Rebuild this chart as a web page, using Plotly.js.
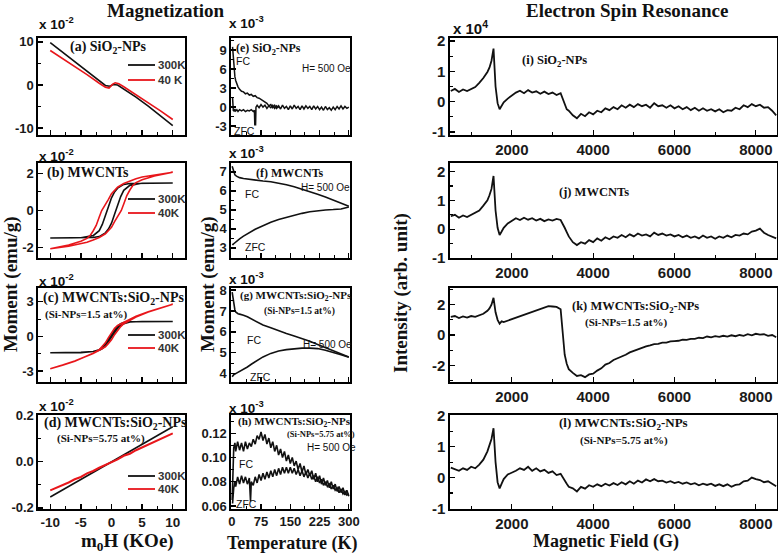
<!DOCTYPE html>
<html>
<head>
<meta charset="utf-8">
<script src="https://cdn.plot.ly/plotly-3.0.1.min.js"></script>
<style>html,body{margin:0;padding:0;background:#fff;}#chart{width:778px;height:560px;}</style>
</head>
<body>
<div id="chart"></div>
<script>
// ================= DATA =================
// (a) SiO2-NPs, M-H  (x10^-2 emu/g)
const aH300 = [-10,-8,-6,-4,-2,-1,-0.3,0.3,1,2,4,6,8,10];
const aM300 = [9.8,7.6,5.4,3.1,0.8,-0.1,-0.3,0.1,0.0,-0.9,-2.8,-4.9,-7.1,-9.4];
const aH40  = [-10,-8,-6,-4,-2,-1,-0.4,0.2,0.6,1.2,2,4,6,8,10];
const aM40  = [8.0,6.2,4.3,2.4,0.4,-0.5,-0.7,0.2,0.5,0.3,-0.4,-2.2,-4.1,-6.0,-8.0];
// (b) MWCNTs loops (descending branch then ascending branch)
const bH300 = [10,5,3,2,1,0.5,0,-0.5,-1,-1.5,-2,-3,-5,-10, -10,-5,-3,-2,-1,-0.5,0,0.5,1,1.5,2,3,5,10];
const bM300 = [1.48,1.47,1.45,1.4,1.2,1.0,0.68,0.2,-0.3,-0.75,-1.08,-1.35,-1.46,-1.48, -1.48,-1.47,-1.45,-1.4,-1.2,-1.0,-0.68,-0.2,0.3,0.75,1.08,1.35,1.46,1.48];
const bH40  = [10,7,5,4,3,2,1,0,-0.5,-1,-1.6,-2,-2.5,-3,-3.5,-4,-5,-7,-10, -10,-7,-5,-4,-3,-2,-1,0,0.5,1,1.6,2,2.5,3,3.5,4,5,7,10];
const bM40  = [2.05,1.92,1.8,1.7,1.58,1.45,1.25,0.9,0.6,0.3,0,-0.35,-0.8,-1.1,-1.35,-1.5,-1.65,-1.85,-2.05, -2.05,-1.92,-1.8,-1.7,-1.58,-1.45,-1.25,-0.9,-0.6,-0.3,0,0.35,0.8,1.1,1.35,1.5,1.65,1.85,2.05];
// (c) MWCNTs:SiO2-NPs (1.5 at%)
const cH300 = [10,5,3,2,1.5,1,0.5,0,-0.5,-1,-1.5,-2,-3,-5,-10, -10,-5,-3,-2,-1.5,-1,-0.5,0,0.5,1,1.5,2,3,5,10];
const cM300 = [1.3,1.3,1.28,1.2,1.1,0.9,0.55,0.2,-0.25,-0.65,-0.95,-1.15,-1.3,-1.4,-1.42, -1.42,-1.38,-1.3,-1.2,-1.05,-0.8,-0.45,-0.05,0.35,0.7,0.95,1.1,1.25,1.3,1.3];
const cH40  = [10,8,6,4,3,2,1,0.5,0,-0.5,-1,-1.5,-2,-3,-4,-6,-8,-10, -10,-8,-6,-4,-3,-2,-1,-0.5,0,0.5,1,1.5,2,3,4,6,8,10];
const cM40  = [2.8,2.5,2.15,1.75,1.5,1.25,0.95,0.7,0.35,-0.1,-0.55,-0.9,-1.15,-1.45,-1.7,-2.15,-2.5,-2.8, -2.8,-2.48,-2.12,-1.72,-1.48,-1.2,-0.9,-0.6,-0.3,0.15,0.55,0.85,1.1,1.42,1.68,2.12,2.48,2.8];
// (d) MWCNTs:SiO2-NPs (5.75 at%)
const dH300 = [-10,-6,-2,2,6,10];
const dM300 = [-0.153,-0.092,-0.031,0.030,0.092,0.152];
const dH40  = [-10,-9,-8,-7,-6,-5,-4,-3,-2,-1,0,1,2,3,4,5,6,7,8,9,10];
const dM40  = [-0.124,-0.113,-0.1,-0.09,-0.076,-0.066,-0.05,-0.04,-0.026,-0.014,0.0,0.01,0.026,0.035,0.05,0.062,0.074,0.086,0.099,0.108,0.123];

// (e) SiO2-NPs FC / ZFC (x10^-3 emu/g)
const eT_FC = [2,4,6,8,10,13,16,20,25,30,35,40,45,50,55,60,65,70,75,80,85,90,95,100,105,110,115,120,125,130,135,140,145,150,155,160,165,170,175,180,185,190,195,200,205,210,215,220,225,230,235,240,245,250,255,260,265,270,275,280,285,290,295,300];
const eM_FC = [9.5,7.5,5.8,4.8,4.2,3.6,3.2,2.8,2.5,2.4,2.1,2.2,1.9,2.0,1.7,1.8,1.5,1.4,1.2,1.0,0.7,0.6,0.2,0.4,-0.1,0.3,-0.2,0.2,-0.3,0.3,-0.2,0.1,-0.4,0.2,-0.3,0.3,-0.2,0.1,-0.4,0.2,-0.3,0.2,-0.2,0.1,-0.4,0.2,-0.3,0.1,-0.4,0.0,-0.5,0.1,-0.4,-0.1,-0.5,0.0,-0.4,0.1,-0.3,0.2,-0.3,0.1,-0.2,0.0];
const eT_ZFC = [2,3,4,5,6,8,10,13,16,20,25,30,35,40,45,50,55,58,59,61,62,65,70,75,80,85,90,95,100,105,110,115,120];
const eM_ZFC = [1.5,0.2,-0.6,-0.3,-0.7,-0.3,-0.6,-0.4,-0.7,-0.4,-0.6,-0.4,-0.7,-0.5,-0.6,-0.4,-0.7,-0.5,-2.8,-2.8,0.0,0.3,-0.1,0.4,0.0,0.3,-0.2,0.2,-0.1,0.3,-0.2,0.2,-0.1];
// (f) MWCNTs
const fT_FC = [1,3,5,8,12,16,20,30,40,50,60,80,100,120,140,160,180,200,220,240,260,280,300];
const fM_FC = [7.3,7.15,7.0,6.85,6.78,6.72,6.7,6.65,6.62,6.6,6.57,6.52,6.48,6.42,6.33,6.22,6.1,5.95,5.82,5.68,5.52,5.36,5.2];
const fT_ZFC = [1,3,5,10,15,20,30,40,50,60,70,80,100,120,140,160,180,200,220,240,260,280,300];
const fM_ZFC = [3.2,3.18,3.22,3.32,3.4,3.48,3.62,3.75,3.87,3.98,4.08,4.18,4.35,4.5,4.62,4.73,4.82,4.9,4.96,5.0,5.02,5.05,5.15];
// (g) MWCNTs:SiO2-NPs (1.5 at%)
const gT_FC = [1,3,5,8,10,13,16,20,25,30,40,50,60,70,80,100,120,140,160,180,200,220,240,260,280,300];
const gM_FC = [7.9,7.6,7.3,7.05,6.95,6.9,6.87,6.85,6.83,6.8,6.72,6.62,6.52,6.42,6.33,6.2,6.05,5.92,5.8,5.68,5.55,5.4,5.25,5.1,4.95,4.8];
const gT_ZFC = [1,3,5,10,15,20,30,40,50,60,70,80,100,120,140,160,180,200,220,240,260,280,300];
const gM_ZFC = [3.85,3.9,3.95,4.0,4.05,4.1,4.2,4.32,4.45,4.58,4.7,4.8,4.97,5.08,5.15,5.2,5.22,5.22,5.2,5.12,5.02,4.9,4.78];
// (h) MWCNTs:SiO2-NPs (5.75 at%)
const hT_FC = [1,2,3,5,8,10,15,20,25,30,35,40,45,50,55,60,65,70,75,80,85,90,95,100,105,110,115,120,125,130,135,140,145,150,155,160,165,170,175,180,185,190,195,200,205,210,215,220,225,230,235,240,245,250,255,260,265,270,275,280,285,290,295,300];
const hM_FC = [0.065,0.085,0.1,0.108,0.112,0.105,0.113,0.106,0.112,0.105,0.113,0.107,0.112,0.109,0.115,0.111,0.118,0.115,0.121,0.114,0.119,0.111,0.116,0.108,0.113,0.105,0.11,0.102,0.107,0.1,0.105,0.097,0.102,0.095,0.1,0.093,0.097,0.09,0.095,0.088,0.093,0.086,0.09,0.085,0.089,0.082,0.087,0.08,0.085,0.078,0.083,0.077,0.081,0.075,0.08,0.074,0.078,0.072,0.076,0.071,0.075,0.069,0.073,0.068];
const hT_ZFC = [2,3,5,8,10,15,20,25,30,35,40,45,47,48,50,55,60,65,70,75,80,85,90,95,100,105,110,115,120,125,130,135,140,145,150,155,160,165,170,175,180,185,190,195,200,205,210,215,220,225,230,235,240,245,250,255,260,265,270,275,280,285,290,295,300];
const hM_ZFC = [0.062,0.07,0.075,0.08,0.076,0.084,0.078,0.085,0.079,0.084,0.078,0.083,0.066,0.064,0.08,0.077,0.084,0.079,0.086,0.081,0.087,0.082,0.088,0.083,0.089,0.084,0.09,0.085,0.091,0.086,0.092,0.087,0.092,0.087,0.092,0.087,0.091,0.086,0.09,0.085,0.089,0.084,0.088,0.083,0.087,0.082,0.085,0.08,0.084,0.079,0.082,0.077,0.08,0.076,0.078,0.074,0.077,0.073,0.075,0.071,0.074,0.07,0.072,0.069,0.07];

// ESR (x10^4 arb. unit) vs magnetic field (G)
const field = [500,600,700,800,900,1000,1100,1200,1300,1400,
  1450,1500,1550,1600,1650,1700,1750,1800,
  1900,2000,2100,2200,2300,2400,2500,2600,2700,2800,2900,3000,3100,3200,
  3250,3300,3350,3400,
  3500,3600,3700,3800,3900,4000,4100,4200,4300,4400,
  4500,4600,4700,4800,4900,5000,5100,5200,5300,5400,
  5500,5600,5700,5800,5900,6000,6100,6200,6300,6400,
  6500,6600,6700,6800,6900,7000,7100,7200,7300,7400,
  7500,7600,7700,7800,7900,8000,8100,8200,8300,8400,8500];
const esrI = [0.35,0.42,0.32,0.4,0.35,0.42,0.48,0.62,0.78,0.98,
  1.12,1.35,1.75,0.5,-0.05,-0.25,-0.12,-0.02,
  0.1,0.2,0.3,0.36,0.28,0.38,0.3,0.34,0.26,0.33,0.25,0.3,0.22,0.28,
  0.1,-0.1,-0.25,-0.3,
  -0.45,-0.55,-0.4,-0.48,-0.35,-0.42,-0.3,-0.35,-0.22,-0.28,
  -0.18,-0.25,-0.12,-0.2,-0.1,-0.18,-0.08,-0.15,-0.1,-0.2,
  -0.05,-0.15,-0.12,-0.2,-0.12,-0.22,-0.15,-0.25,-0.18,-0.28,
  -0.2,-0.3,-0.22,-0.3,-0.25,-0.32,-0.25,-0.35,-0.28,-0.3,
  -0.2,-0.25,-0.12,-0.18,-0.08,-0.15,-0.1,-0.2,-0.18,-0.3,-0.45];
const esrJ = [0.45,0.5,0.4,0.48,0.42,0.5,0.55,0.65,0.82,1.0,
  1.18,1.4,1.85,0.65,0.05,-0.2,-0.08,0.05,
  0.2,0.3,0.38,0.32,0.4,0.33,0.38,0.3,0.36,0.28,0.34,0.3,0.36,0.32,
  0.2,0.05,-0.1,-0.25,
  -0.45,-0.55,-0.45,-0.5,-0.38,-0.45,-0.32,-0.4,-0.28,-0.35,
  -0.25,-0.3,-0.2,-0.28,-0.18,-0.25,-0.15,-0.22,-0.18,-0.25,
  -0.12,-0.2,-0.15,-0.22,-0.18,-0.25,-0.2,-0.28,-0.22,-0.3,
  -0.25,-0.32,-0.22,-0.3,-0.25,-0.33,-0.25,-0.3,-0.22,-0.28,
  -0.2,-0.22,-0.15,-0.18,-0.08,-0.05,0.02,-0.12,-0.2,-0.25,-0.32];
const esrK = [1.2,1.25,1.12,1.22,1.15,1.25,1.2,1.3,1.4,1.6,
  1.75,2.0,2.45,1.5,1.0,0.75,0.9,0.85,
  0.95,1.05,1.15,1.25,1.35,1.45,1.5,1.65,1.75,1.85,1.9,1.88,1.85,1.7,
  0.3,-1.3,-1.9,-2.25,
  -2.5,-2.7,-2.65,-2.78,-2.6,-2.55,-2.35,-2.2,-1.95,-1.85,
  -1.65,-1.55,-1.4,-1.3,-1.15,-1.05,-0.9,-0.85,-0.75,-0.68,
  -0.6,-0.58,-0.5,-0.5,-0.42,-0.4,-0.38,-0.3,-0.32,-0.25,
  -0.25,-0.18,-0.2,-0.1,-0.15,-0.08,-0.12,-0.05,-0.1,-0.02,
  -0.08,0.0,-0.05,0.05,-0.02,0.08,0.02,0.05,-0.05,0.0,-0.15];
const esrL = [0.32,0.28,0.22,0.3,0.25,0.35,0.3,0.42,0.58,0.85,
  1.05,1.25,1.6,0.5,-0.15,-0.35,-0.2,-0.05,
  0.1,0.15,0.22,0.3,0.25,0.35,0.22,0.3,0.2,0.25,0.15,0.2,0.08,0.12,
  0.0,-0.1,-0.2,-0.3,
  -0.35,-0.45,-0.3,-0.36,-0.25,-0.3,-0.22,-0.28,-0.2,-0.26,
  -0.18,-0.24,-0.15,-0.22,-0.12,-0.2,-0.1,-0.16,-0.06,-0.12,
  -0.05,-0.12,-0.1,-0.16,-0.12,-0.18,-0.14,-0.2,-0.16,-0.22,
  -0.18,-0.25,-0.2,-0.24,-0.2,-0.27,-0.22,-0.28,-0.22,-0.3,
  -0.24,-0.22,-0.12,-0.1,0.0,-0.05,-0.08,-0.15,-0.12,-0.2,-0.28];

// tick labels
const mhTicks = [-10,-5,0,5,10], mhText = ['-10','-5','0','5','10'];
const aYTicks = [-10,0,10], aYText = ['-10','0','10'];
const bYTicks = [-2,0,2], bYText = ['-2','0','2'];
const cYTicks = [-3,0,3], cYText = ['-3','0','3'];
const dYTicks = [-0.2,0,0.2], dYText = ['-0.2','0.0','0.2'];
const tTicks = [0,75,150,225,300], tText = ['0','75','150','225','300'];
const eYTicks = [-3,0,3,6,9], eYText = ['-3','0','3','6','9'];
const fYTicks = [3,4,5,6,7], fYText = ['3','4','5','6','7'];
const gYTicks = [4,5,6,7,8], gYText = ['4','5','6','7','8'];
const hYTicks = [0.06,0.08,0.10,0.12], hYText = ['0.06','0.08','0.10','0.12'];
const fieldTicks = [2000,4000,6000,8000], fieldText = ['2000','4000','6000','8000'];
const iYTicks = [-1,0,1,2], iYText = ['-1','0','1','2'];
const kYTicks = [-2,0,2], kYText = ['-2','0','2'];

// ================= LAYOUT =================
const W = 778, H = 560;
const px = v => v / W;
const py = v => 1 - v / H;
const SANS = "'Liberation Sans', Arial, sans-serif";
const SERIF = "'Liberation Serif', 'Times New Roman', serif";
const BLACK = '#111111', RED = '#e8161b';
const colPx = {L: [38, 185], M: [231, 350], R: [450, 777]};
const rowPx = [[38, 135], [163, 258], [288, 382], [415, 509]];

const layout = {width: W, height: H, margin: {l: 0, r: 0, t: 0, b: 0},
  paper_bgcolor: '#fff', plot_bgcolor: '#fff', showlegend: false,
  annotations: [], shapes: []};

function addPanel(n, col, row, xr, yr, xtv, xtt, xminor, showX, ytv, ytt, yminor, fx, fy) {
  const xk = n === 1 ? 'xaxis' : 'xaxis' + n, yk = n === 1 ? 'yaxis' : 'yaxis' + n;
  const xid = n === 1 ? 'x' : 'x' + n, yid = n === 1 ? 'y' : 'y' + n;
  const base = {showline: true, mirror: true, linecolor: '#000', linewidth: 1.6,
    showgrid: false, zeroline: false, ticks: 'inside', ticklen: 5, tickwidth: 1.3,
    tickcolor: '#000', tickmode: 'array', fixedrange: true};
  layout[xk] = Object.assign({}, base, {
    domain: [px(colPx[col][0]), px(colPx[col][1])], range: xr, anchor: yid,
    tickvals: xtv, ticktext: xtt, showticklabels: showX,
    tickfont: {family: SANS, size: fx, color: '#1a1a1a', weight: 'bold'},
    minor: {ticks: 'inside', ticklen: 3, tickwidth: 1.1, tickcolor: '#000', tickmode: 'linear', dtick: xminor[0], tick0: xminor[1]}});
  layout[yk] = Object.assign({}, base, {
    domain: [py(rowPx[row][1]), py(rowPx[row][0])], range: yr, anchor: xid,
    tickvals: ytv, ticktext: ytt,
    tickfont: {family: SANS, size: fy, color: '#1a1a1a', weight: 'bold'},
    minor: {ticks: 'inside', ticklen: 3, tickwidth: 1.1, tickcolor: '#000', tickmode: 'linear', dtick: yminor[0], tick0: yminor[1]}});
  return [xid, yid];
}

const P = {};
P.a = addPanel(1, 'L', 0, [-12, 12], [-11.6, 10.9], mhTicks, mhText, [2.5, 0], false, aYTicks, aYText, [5, 0], 13.5, 13);
P.b = addPanel(2, 'L', 1, [-12, 12], [-2.55, 2.55], mhTicks, mhText, [2.5, 0], false, bYTicks, bYText, [1, 0], 13.5, 13);
P.c = addPanel(3, 'L', 2, [-12, 12], [-3.95, 4.2], mhTicks, mhText, [2.5, 0], false, cYTicks, cYText, [1.5, 0], 13.5, 13);
P.d = addPanel(4, 'L', 3, [-12, 12], [-0.205, 0.203], mhTicks, mhText, [2.5, 0], true, dYTicks, dYText, [0.1, 0], 13.5, 13);
P.e = addPanel(5, 'M', 0, [-2, 303], [-4.4, 10.9], tTicks, tText, [37.5, 0], false, eYTicks, eYText, [1.5, 0], 13, 13);
P.f = addPanel(6, 'M', 1, [-2, 303], [2.47, 7.47], tTicks, tText, [37.5, 0], false, fYTicks, fYText, [0.5, 0], 13, 13);
P.g = addPanel(7, 'M', 2, [-2, 303], [3.6, 8.1], tTicks, tText, [37.5, 0], false, gYTicks, gYText, [0.5, 0], 13, 13);
P.h = addPanel(8, 'M', 3, [-2, 303], [0.0575, 0.135], tTicks, tText, [37.5, 0], true, hYTicks, hYText, [0.01, 0], 13, 13);
P.i = addPanel(9, 'R', 0, [480, 8520], [-1.1, 2.1], fieldTicks, fieldText, [1000, 0], true, iYTicks, iYText, [0.5, 0], 15, 15);
P.j = addPanel(10, 'R', 1, [480, 8520], [-1.0, 2.3], fieldTicks, fieldText, [1000, 0], true, iYTicks, iYText, [0.5, 0], 15, 15);
P.k = addPanel(11, 'R', 2, [480, 8520], [-3.1, 3.1], fieldTicks, fieldText, [1000, 0], true, kYTicks, kYText, [1, 0], 15, 15);
P.l = addPanel(12, 'R', 3, [480, 8520], [-1.02, 2.03], fieldTicks, fieldText, [1000, 0], true, iYTicks, iYText, [0.5, 0], 15, 15);

const traces = [];
function line(xs, ys, p, color, w) {
  traces.push({x: xs, y: ys, xaxis: p[0], yaxis: p[1], mode: 'lines', type: 'scatter',
    line: {color: color, width: w || 1.6}, hoverinfo: 'skip', showlegend: false});
}
line(aH300, aM300, P.a, BLACK); line(aH40, aM40, P.a, RED);
line(bH300, bM300, P.b, BLACK); line(bH40, bM40, P.b, RED);
line(cH300, cM300, P.c, BLACK); line(cH40, cM40, P.c, RED);
line(dH300, dM300, P.d, BLACK); line(dH40, dM40, P.d, RED, 2);
line(eT_FC, eM_FC, P.e, BLACK, 1.5); line(eT_ZFC, eM_ZFC, P.e, BLACK, 1.5);
line(fT_FC, fM_FC, P.f, BLACK); line(fT_ZFC, fM_ZFC, P.f, BLACK);
line(gT_FC, gM_FC, P.g, BLACK); line(gT_ZFC, gM_ZFC, P.g, BLACK);
line(hT_FC, hM_FC, P.h, BLACK, 1.6); line(hT_ZFC, hM_ZFC, P.h, BLACK, 1.6);
line(field, esrI, P.i, BLACK, 1.8); line(field, esrJ, P.j, BLACK, 1.8);
line(field, esrK, P.k, BLACK, 1.8); line(field, esrL, P.l, BLACK, 1.8);

// ---- annotations ----
function ann(text, x, y, size, family, opt) {
  opt = opt || {};
  layout.annotations.push({text: text, x: px(x), y: py(y), xref: 'paper', yref: 'paper',
    showarrow: false, xanchor: opt.xa || 'left', yanchor: 'middle', textangle: opt.rot || 0,
    font: {family: family, size: size, color: opt.color || '#111', weight: opt.w || 'bold'}});
}
ann('Magnetization', 166, 10, 19, SERIF, {xa: 'center'});
ann('Electron Spin Resonance', 627, 10, 19, SERIF, {xa: 'center'});

[23, 155, 280, 405].forEach(y => ann('x 10<sup>-2</sup>', 37, y, 13.5, SANS));
[22, 152, 278, 407].forEach(y => ann('x 10<sup>-3</sup>', 227, y, 13.5, SANS));
ann('x 10<sup>4</sup>', 451, 27, 15, SANS);

ann('(a) SiO<sub>2</sub>-NPs', 68, 47, 14, SERIF);
ann('(b) MWCNTs', 45, 173, 14, SERIF);
ann('(c) MWCNTs:SiO<sub>2</sub>-NPs', 41, 298, 14, SERIF);
ann('(Si-NPs=1.5 at%)', 43, 314, 11, SERIF);
ann('(d) MWCNTs:SiO<sub>2</sub>-NPs', 42, 423, 14, SERIF);
ann('(Si-NPs=5.75 at%)', 55, 438, 11, SERIF);

ann('(e) SiO<sub>2</sub>-NPs', 234, 49, 12, SERIF);
ann('H= 500 Oe', 300, 68, 10, SANS, {w: 'normal'});
ann('FC', 234, 61, 10.5, SANS, {w: 'normal'});
ann('ZFC', 232, 131, 10.5, SANS, {w: 'normal'});
ann('(f) MWCNTs', 254, 173, 12, SERIF);
ann('H= 500 Oe', 299, 188, 10, SANS, {w: 'normal'});
ann('FC', 243, 194, 10.5, SANS, {w: 'normal'});
ann('ZFC', 243, 247, 10.5, SANS, {w: 'normal'});
ann('(g) MWCNTs:SiO<sub>2</sub>-NPs', 238, 296, 11, SERIF);
ann('(Si-NPs=1.5 at%)', 262, 311, 9.5, SERIF);
ann('H= 500 Oe', 301, 344, 10, SANS, {w: 'normal'});
ann('FC', 245, 340, 10.5, SANS, {w: 'normal'});
ann('ZFC', 248, 377, 10.5, SANS, {w: 'normal'});
ann('(h) MWCNTs:SiO<sub>2</sub>-NPs', 236, 422, 11, SERIF);
ann('(Si-NPs=5.75 at%)', 285, 434, 8.5, SERIF);
ann('H= 500 Oe', 305, 447, 10, SANS, {w: 'normal'});
ann('FC', 237, 464, 10.5, SANS, {w: 'normal'});
ann('ZFC', 234, 504, 10.5, SANS, {w: 'normal'});

ann('(i) SiO<sub>2</sub>-NPs', 520, 61, 12.5, SERIF);
ann('(j) MWCNTs', 557, 192, 12.5, SERIF);
ann('(k) MWCNTs:SiO<sub>2</sub>-NPs', 570, 307, 12.5, SERIF);
ann('(Si-NPs=1.5 at%)', 583, 322, 11, SERIF);
ann('(l) MWCNTs:SiO<sub>2</sub>-NPs', 557, 423, 13, SERIF);
ann('(Si-NPs=5.75 at%)', 578, 440, 11, SERIF);

// axis titles
ann('m<sub>0</sub>H (KOe)', 127, 542, 19, SERIF, {xa: 'center'});
ann('Temperature (K)', 292, 543, 18, SERIF, {xa: 'center'});
ann('Magnetic Field (G)', 606, 541, 18, SERIF, {xa: 'center'});
ann('Moment (emu/g)', 11, 284, 19, SERIF, {xa: 'center', rot: -90});
ann('Moment (emu/g)', 208, 284, 19, SERIF, {xa: 'center', rot: -90});
ann('Intensity (arb. unit)', 401, 293, 19, SERIF, {xa: 'center', rot: -90});

// legends (line samples + labels) for M-H panels
const legendRows = [[65, 80, '40 K'], [199, 213, '40K'], [335, 348, '40K'], [476, 489, '40K']];
legendRows.forEach(r => {
  layout.shapes.push({type: 'line', xref: 'paper', yref: 'paper', x0: px(128), x1: px(155), y0: py(r[0]), y1: py(r[0]), line: {color: BLACK, width: 1.8}});
  layout.shapes.push({type: 'line', xref: 'paper', yref: 'paper', x0: px(128), x1: px(155), y0: py(r[1]), y1: py(r[1]), line: {color: RED, width: 1.8}});
  ann('300K', 156, r[0], 11.5, SANS, {color: '#333'});
  ann(r[2], 156, r[1], 11.5, SANS, {color: '#333'});
});

Plotly.newPlot('chart', traces, layout, {staticPlot: true, displayModeBar: false});
</script>
</body>
</html>
